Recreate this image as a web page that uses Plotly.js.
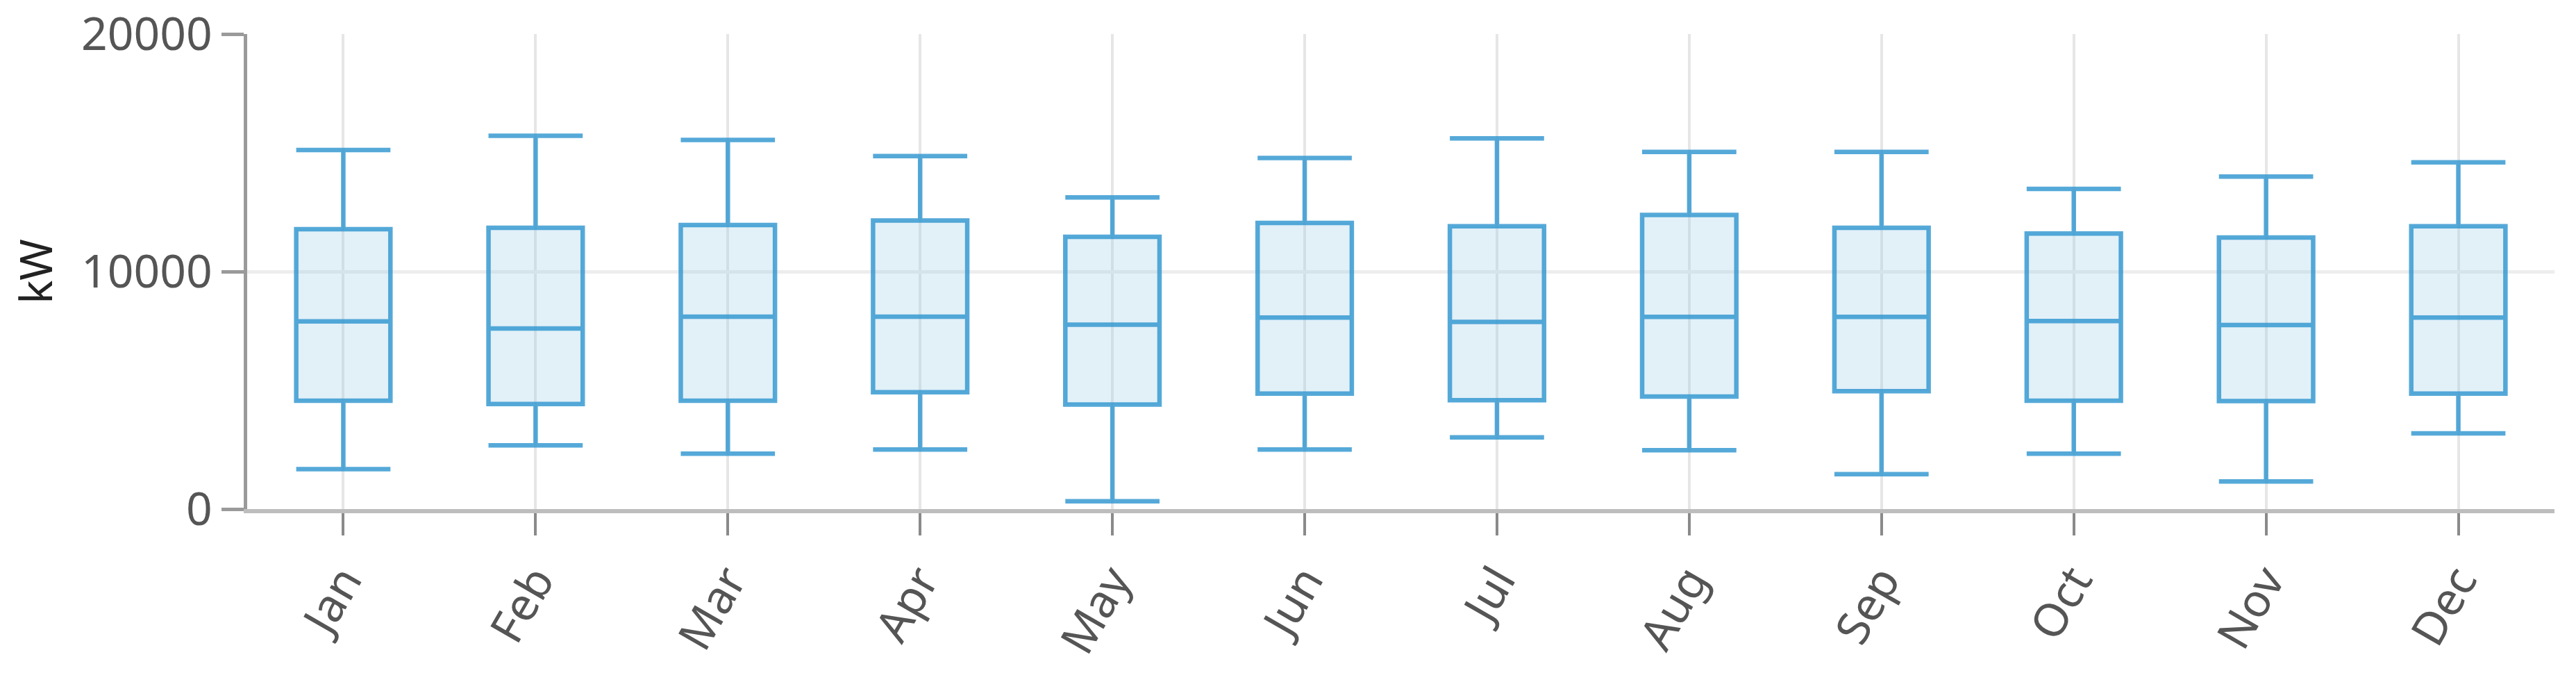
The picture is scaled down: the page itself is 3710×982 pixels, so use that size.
<!DOCTYPE html>
<html>
<head>
<meta charset="utf-8">
<script src="https://cdn.plot.ly/plotly-3.0.1.min.js"></script>
<style>
  html, body { margin: 0; padding: 0; background: #ffffff; }
  #chart { width: 3710px; height: 982px; }
</style>
</head>
<body>
<div id="chart"></div>
<script>
const months = ["Jan", "Feb", "Mar", "Apr", "May", "Jun", "Jul", "Aug", "Sep", "Oct", "Nov", "Dec"];
const lowerWhisker = [1680, 2680, 2330, 2510, 330, 2510, 3020, 2480, 1470, 2330, 1160, 3190];
const q1Values     = [4560, 4420, 4560, 4920, 4400, 4860, 4580, 4740, 4960, 4560, 4550, 4860];
const medianValues = [7900, 7600, 8100, 8100, 7760, 8060, 7880, 8090, 8090, 7920, 7750, 8060];
const q3Values     = [11780, 11840, 11960, 12150, 11460, 12050, 11910, 12380, 11840, 11600, 11430, 11910];
const upperWhisker = [15120, 15720, 15540, 14860, 13120, 14780, 15610, 15040, 15040, 13480, 14000, 14600];
const yTickValues = [0, 10000, 20000];
const yTickLabels = ["0", "10000", "20000"];

const trace = {
  type: "box",
  x: months,
  q1: q1Values,
  median: medianValues,
  q3: q3Values,
  lowerfence: lowerWhisker,
  upperfence: upperWhisker,
  boxpoints: false,
  whiskerwidth: 1,
  fillcolor: "rgba(150,200,230,0.28)",
  line: { color: "rgba(48,150,208,0.82)", width: 6.5 },
  hoverinfo: "skip",
  showlegend: false
};

const tickFont = { family: "Noto Sans, Open Sans, sans-serif", size: 66, color: "#555555" };

const layout = {
  width: 3710,
  height: 982,
  paper_bgcolor: "#ffffff",
  plot_bgcolor: "#ffffff",
  margin: { l: 356, r: 31, t: 49, b: 249, pad: 0 },
  boxgap: 0.3,
  showlegend: false,
  xaxis: {
    type: "category",
    categoryorder: "array",
    categoryarray: months,
    range: [-0.5, 11.5],
    showgrid: true,
    gridcolor: "#e6e6e6",
    gridwidth: 4,
    showline: true,
    linecolor: "#bdbdbd",
    linewidth: 6,
    ticks: "outside",
    ticklen: 32,
    tickwidth: 4,
    tickcolor: "#8a8a8a",
    tickangle: -60,
    tickfont: tickFont,
    automargin: false,
    zeroline: false,
    fixedrange: true
  },
  yaxis: {
    range: [0, 20000],
    tickmode: "array",
    tickvals: yTickValues,
    ticktext: yTickLabels,
    showgrid: true,
    gridcolor: "#ededed",
    gridwidth: 5,
    showline: true,
    linecolor: "#9a9a9a",
    linewidth: 5,
    ticks: "outside",
    ticklen: 32,
    tickwidth: 5,
    tickcolor: "#9a9a9a",
    tickfont: tickFont,
    zeroline: false,
    automargin: false,
    title: {
      text: "kW",
      font: { family: "Noto Sans, Open Sans, sans-serif", size: 64, color: "#222222" },
      standoff: 22
    },
    fixedrange: true
  }
};

Plotly.newPlot("chart", [trace], layout, { displayModeBar: false, staticPlot: true });
</script>
</body>
</html>
